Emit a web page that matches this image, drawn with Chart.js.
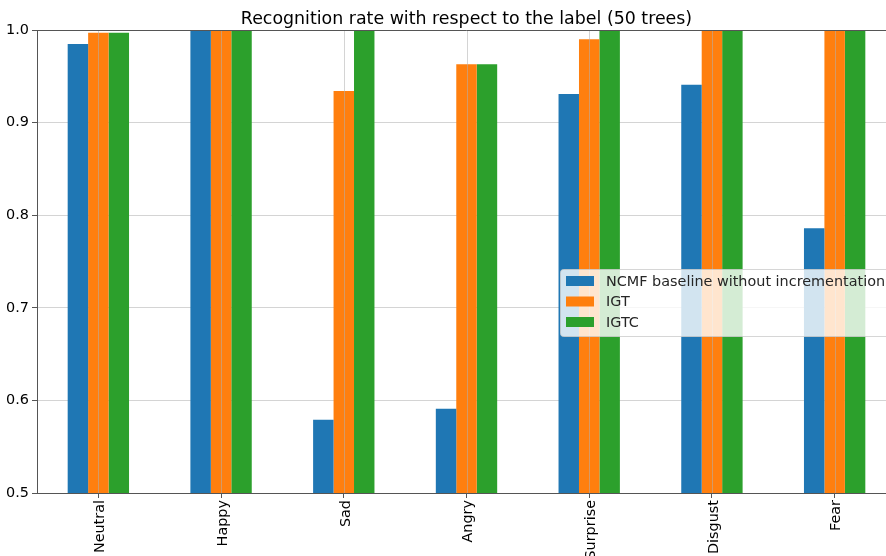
<!DOCTYPE html>
<html>
<head>
<meta charset="utf-8">
<script src="https://cdn.jsdelivr.net/npm/chart.js@4"></script>
<style>
  html, body { margin: 0; padding: 0; background: #fff; overflow: hidden; }
  #wrap { width: 886px; height: 556px; overflow: hidden; }
</style>
</head>
<body>
<div id="wrap"><canvas id="rateChart" width="900" height="580"></canvas></div>
<script>
// categories and series
const categories = ['Neutral', 'Happy', 'Sad', 'Angry', 'Surprise', 'Disgust', 'Fear'];
const seriesNames = ['NCMF baseline without incrementation', 'IGT', 'IGTC'];
const ncmfValues = [0.985, 1.0, 0.579, 0.591, 0.931, 0.941, 0.786];
const igtValues = [0.997, 1.0, 0.934, 0.963, 0.990, 1.0, 1.0];
const igtcValues = [0.997, 1.0, 1.0, 0.963, 1.0, 1.0, 1.0];
const yTicks = [0.5, 0.6, 0.7, 0.8, 0.9, 1.0];
const titleText = 'Recognition rate with respect to the label (50 trees)';

const colors = ['#1f77b4', '#ff7f0e', '#2ca02c'];
const gridColor = 'rgba(176,176,176,0.55)';
const spineColor = '#555';
const fontFamily = '"DejaVu Sans", sans-serif';

// vertical grid lines sit on top of the bars, plus the top spine and title
const overlayGrid = {
  id: 'overlayGrid',
  afterDatasetsDraw(chart) {
    const ctx = chart.ctx;
    const area = chart.chartArea;
    const x = chart.scales.x;
    ctx.save();
    ctx.strokeStyle = gridColor;
    ctx.lineWidth = 1;
    categories.forEach((c, i) => {
      const px = Math.round(x.getPixelForValue(i)) + 0.5;
      ctx.beginPath();
      ctx.moveTo(px, area.top);
      ctx.lineTo(px, area.bottom);
      ctx.stroke();
    });
    ctx.strokeStyle = spineColor;
    ctx.beginPath();
    ctx.moveTo(area.left, Math.round(area.top) + 0.5);
    ctx.lineTo(area.right, Math.round(area.top) + 0.5);
    ctx.stroke();
    // title centred over the plot area, like matplotlib
    ctx.fillStyle = '#000';
    ctx.font = '17.4px ' + fontFamily;
    ctx.textAlign = 'center';
    ctx.textBaseline = 'alphabetic';
    ctx.fillText(titleText, (area.left + area.right) / 2, area.top - 6);
    ctx.restore();
  }
};

// matplotlib-like legend box in the right middle of the plot
const boxLegend = {
  id: 'boxLegend',
  afterDraw(chart) {
    const ctx = chart.ctx;
    const area = chart.chartArea;
    const left = area.left + 523;
    const top = area.top + 239;
    const w = 340, h = 67;
    ctx.save();
    ctx.fillStyle = 'rgba(255,255,255,0.8)';
    ctx.strokeStyle = 'rgba(204,204,204,0.8)';
    ctx.lineWidth = 1;
    ctx.beginPath();
    ctx.roundRect(left + 0.5, top + 0.5, w, h, 3);
    ctx.fill();
    ctx.stroke();
    ctx.font = '14.4px ' + fontFamily;
    ctx.textBaseline = 'middle';
    chart.data.datasets.forEach((ds, i) => {
      const cy = top + 12 + i * 20.5;
      ctx.fillStyle = ds.backgroundColor;
      ctx.fillRect(left + 6, cy - 5, 28, 10);
      ctx.fillStyle = '#262626';
      ctx.fillText(ds.label, left + 46, cy + 1);
    });
    ctx.restore();
  }
};

const rateData = {
  labels: categories,
  datasets: [
    { label: seriesNames[0], data: ncmfValues, backgroundColor: colors[0] },
    { label: seriesNames[1], data: igtValues, backgroundColor: colors[1] },
    { label: seriesNames[2], data: igtcValues, backgroundColor: colors[2] },
  ],
};

const rateOptions = {
  responsive: false,
  animation: false,
  layout: { padding: { left: 0, right: 4, top: 30, bottom: 0 } },
  datasets: { bar: { categoryPercentage: 0.5, barPercentage: 1.0, borderWidth: 0 } },
  plugins: {
    legend: { display: false },
    tooltip: { enabled: false },
    title: { display: false },
  },
  scales: {
    x: {
      grid: { display: true, drawOnChartArea: false, offset: false, tickLength: 5, tickColor: spineColor },
      border: { color: spineColor },
      ticks: {
        color: '#000', maxRotation: 90, minRotation: 90, padding: 2, labelOffset: 2,
        font: { family: fontFamily, size: 14.4 },
      },
      afterFit(scale) { scale.height = 87; },
    },
    y: {
      min: 0.5,
      max: 1.0,
      afterBuildTicks(scale) { scale.ticks = yTicks.map(v => ({ value: v })); },
      grid: { color: gridColor, tickLength: 5, tickColor: spineColor },
      border: { color: spineColor },
      ticks: {
        color: '#000', padding: 3,
        font: { family: fontFamily, size: 14.4 },
        callback: v => v.toFixed(1),
      },
      afterFit(scale) { scale.width = 37; },
    },
  },
};

const rateCanvas = document.getElementById('rateChart').getContext('2d');
new Chart(rateCanvas, {
  type: 'bar',
  data: rateData,
  options: rateOptions,
  plugins: [overlayGrid, boxLegend],
});
</script>
</body>
</html>
